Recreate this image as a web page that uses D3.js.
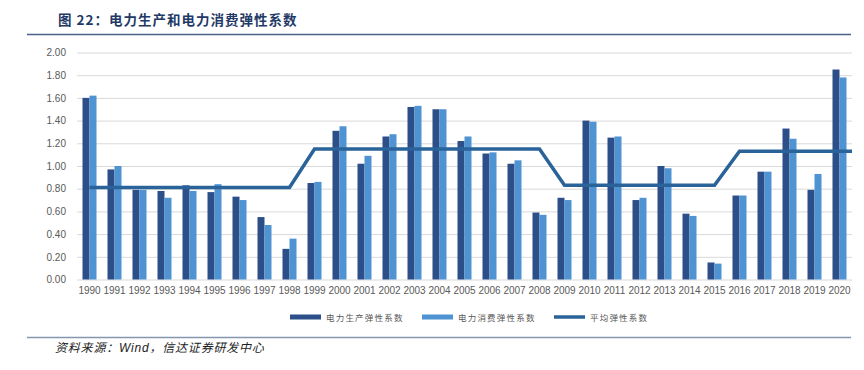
<!DOCTYPE html>
<html><head><meta charset="utf-8">
<script src="https://cdn.jsdelivr.net/npm/d3@7"></script>
<style>
html,body{margin:0;padding:0;background:#fff;}
svg{display:block;}
</style></head>
<body>
<svg id="chart" width="864" height="370"></svg>
<script>
const years = ["1990","1991","1992","1993","1994","1995","1996","1997","1998","1999","2000","2001","2002","2003","2004","2005","2006","2007","2008","2009","2010","2011","2012","2013","2014","2015","2016","2017","2018","2019","2020"];
const production = [1.60,0.97,0.79,0.78,0.83,0.77,0.73,0.55,0.27,0.85,1.31,1.02,1.26,1.52,1.50,1.22,1.11,1.02,0.59,0.72,1.40,1.25,0.70,1.00,0.58,0.15,0.74,0.95,1.33,0.79,1.85];
const consumption = [1.62,1.00,0.79,0.72,0.78,0.84,0.70,0.48,0.36,0.86,1.35,1.09,1.28,1.53,1.50,1.26,1.12,1.05,0.57,0.70,1.39,1.26,0.72,0.98,0.56,0.14,0.74,0.95,1.24,0.93,1.78];
const average = [0.81,0.81,0.81,0.81,0.81,0.81,0.81,0.81,0.81,1.15,1.15,1.15,1.15,1.15,1.15,1.15,1.15,1.15,1.15,0.83,0.83,0.83,0.83,0.83,0.83,0.83,1.13,1.13,1.13,1.13,1.13];
const yTicks = [0,0.2,0.4,0.6,0.8,1.0,1.2,1.4,1.6,1.8,2.0];
const seriesNames = ["电力生产弹性系数","电力消费弹性系数","平均弹性系数"];
const colors = {prod:"#2c4f8a", cons:"#4f93d2", avg:"#2a6399"};

const svg = d3.select("#chart");
const x = d3.scaleBand().domain(years).range([77, 852]);
const x1 = d3.scaleBand().domain(["prod","cons"]).range([0, x.bandwidth()*0.56]);
const off = (x.bandwidth() - x.bandwidth()*0.56)/2;
const y = d3.scaleLinear().domain([0,2]).range([279.5, 52.5]);

// Title
svg.append("text").attr("x",58).attr("y",25)
  .attr("font-family","'Noto Sans CJK SC', sans-serif").attr("font-weight","bold")
  .attr("font-size",13.5).attr("letter-spacing",1).attr("fill","#1f3a66").text("图 22：电力生产和电力消费弹性系数");
svg.append("line").attr("x1",27).attr("x2",851).attr("y1",34.5).attr("y2",34.5)
  .attr("stroke","#4a6285").attr("stroke-width",1.3);

// Gridlines
const yAxis = d3.axisLeft(y).tickValues(yTicks).tickFormat(d3.format(".2f")).tickSize(-(x.range()[1]-x.range()[0])).tickPadding(11);
const gy = svg.append("g").attr("transform",`translate(${x.range()[0]},0)`).call(yAxis);
gy.select(".domain").remove();
gy.selectAll(".tick line").attr("stroke","#d9d9d9").attr("stroke-width",1);
gy.selectAll(".tick text").attr("font-family","'Liberation Sans', Arial, sans-serif").attr("font-size",10).attr("fill","#595959");

// Bars
const g = svg.append("g");
g.selectAll("rect.prod").data(years).join("rect").attr("class","prod")
  .attr("x",(d)=>x(d)+off+x1("prod")).attr("width",x1.bandwidth())
  .attr("y",(d,i)=>y(production[i])).attr("height",(d,i)=>y(0)-y(production[i]))
  .attr("fill",colors.prod);
g.selectAll("rect.cons").data(years).join("rect").attr("class","cons")
  .attr("x",(d)=>x(d)+off+x1("cons")).attr("width",x1.bandwidth())
  .attr("y",(d,i)=>y(consumption[i])).attr("height",(d,i)=>y(0)-y(consumption[i]))
  .attr("fill",colors.cons);

// Average line
const pts = years.map((d,i)=>[x(d)+x.bandwidth()/2, y(average[i])]);
pts.push([x.range()[1], y(average[average.length-1])]);
svg.append("path").attr("d", d3.line()(pts)).attr("fill","none")
  .attr("stroke",colors.avg).attr("stroke-width",3.5).attr("stroke-linejoin","miter");

// X axis labels
const xAxis = d3.axisBottom(x).tickSize(0).tickPadding(7);
const gx = svg.append("g").attr("transform",`translate(0,${y(0)})`).call(xAxis);
gx.select(".domain").remove();
gx.selectAll(".tick text").attr("font-family","'Liberation Sans', Arial, sans-serif").attr("font-size",10).attr("fill","#595959");

// Legend
const leg = [
  {x:290, type:"rect", color:colors.prod, name:seriesNames[0]},
  {x:422, type:"rect", color:colors.cons, name:seriesNames[1]},
  {x:554, type:"line", color:colors.avg, name:seriesNames[2]}
];
const lg = svg.append("g");
leg.forEach(l=>{
  if(l.type==="rect"){
    lg.append("rect").attr("x",l.x).attr("y",314.5).attr("width",31).attr("height",5).attr("fill",l.color);
  } else {
    lg.append("line").attr("x1",l.x).attr("x2",l.x+31).attr("y1",317).attr("y2",317).attr("stroke",l.color).attr("stroke-width",3.5);
  }
  lg.append("text").attr("x",l.x+36).attr("y",320.5)
    .attr("font-family","'Noto Sans CJK SC', sans-serif").attr("font-size",8.5)
    .attr("letter-spacing",1.2).attr("fill","#595959").text(l.name);
});

// Bottom rule & source
svg.append("line").attr("x1",27).attr("x2",851).attr("y1",337.5).attr("y2",337.5)
  .attr("stroke","#8496b0").attr("stroke-width",1.5);
const src = svg.append("text").attr("x",55).attr("y",352)
  .attr("font-family","'Noto Sans CJK SC', sans-serif").attr("font-size",12).attr("fill","#222")
  .attr("font-style","italic").attr("letter-spacing",0.8);
src.append("tspan").text("资料来源：");
src.append("tspan").attr("font-family","'Liberation Sans', Arial, sans-serif").text("Wind");
src.append("tspan").text("，信达证券研发中心");
</script>
</body></html>
